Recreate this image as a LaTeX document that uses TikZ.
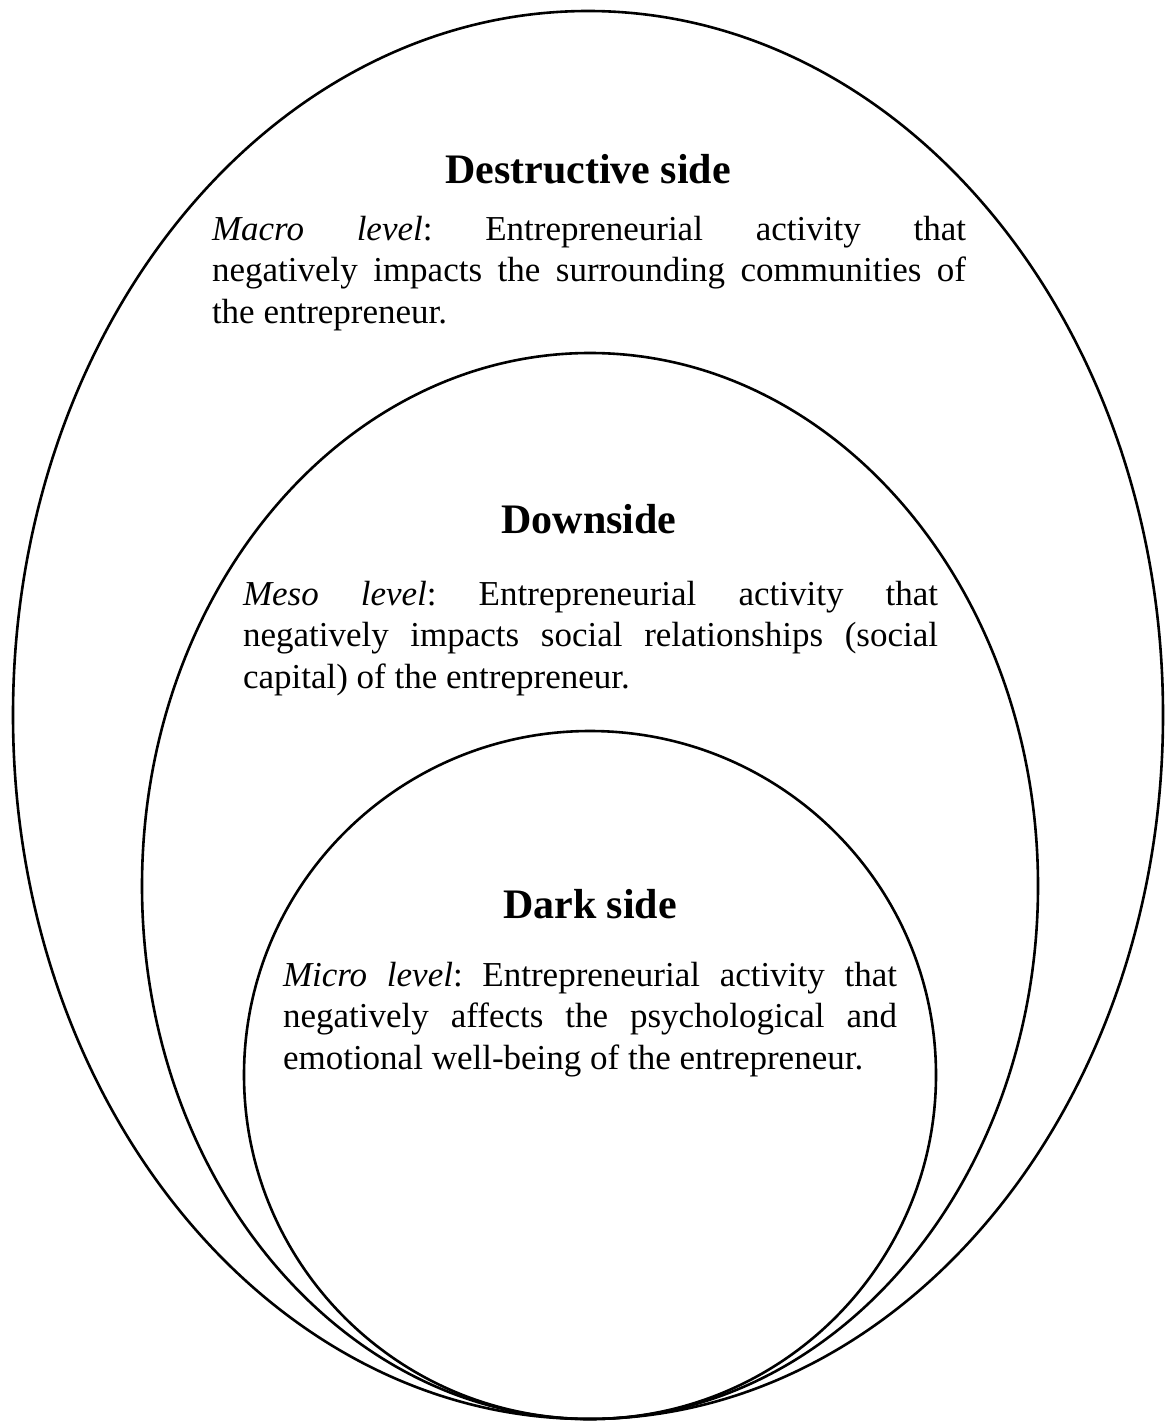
\documentclass[tikz,border=0pt]{standalone}
\usepackage{fontspec}
\setmainfont{Liberation Serif}
\frenchspacing

\begin{document}
\begin{tikzpicture}[x=1pt,y=-1pt]
	\tikzstyle{every node}=[inner sep=0pt,outer sep=0pt]
	\tikzstyle{sidetitle}=[anchor=base,font=\fontsize{42}{50}\selectfont\bfseries]
	\tikzstyle{sidetext}=[anchor=base west,align=justify,font=\fontsize{35}{41.5}\selectfont]
	\tikzstyle{level}=[line width=2.6pt]
	
	\useasboundingbox (0,0) rectangle (1165,1421);
	
	% the three sides, all touching at the bottom
	\draw [level] (588,715) ellipse (575 and 704);
	\draw [level] (590,886) ellipse (448 and 533);
	\draw [level] (590,1075) ellipse (346 and 344);
	
	\node [sidetitle] (destTitle) at (588,183) {Destructive side};
	\node [sidetext, text width=754pt] (destText) at (212,240)
	{\textit{Macro level}: Entrepreneurial activity that\linebreak
	negatively impacts the surrounding communities of\linebreak
	the entrepreneur.};
	
	\node [sidetitle] (downTitle) at (589,533) {Downside};
	\node [sidetext, text width=695pt] (downText) at (243,605)
	{\textit{Meso level}: Entrepreneurial activity that\linebreak
	negatively impacts social relationships (social\linebreak
	capital) of the entrepreneur.};
	
	\node [sidetitle] (darkTitle) at (590,918) {Dark side};
	\node [sidetext, text width=614pt] (darkText) at (283,986)
	{\textit{Micro level}: Entrepreneurial activity that\linebreak
	negatively affects the psychological and\linebreak
	emotional well-being of the entrepreneur.};
	
\end{tikzpicture}
\end{document}
